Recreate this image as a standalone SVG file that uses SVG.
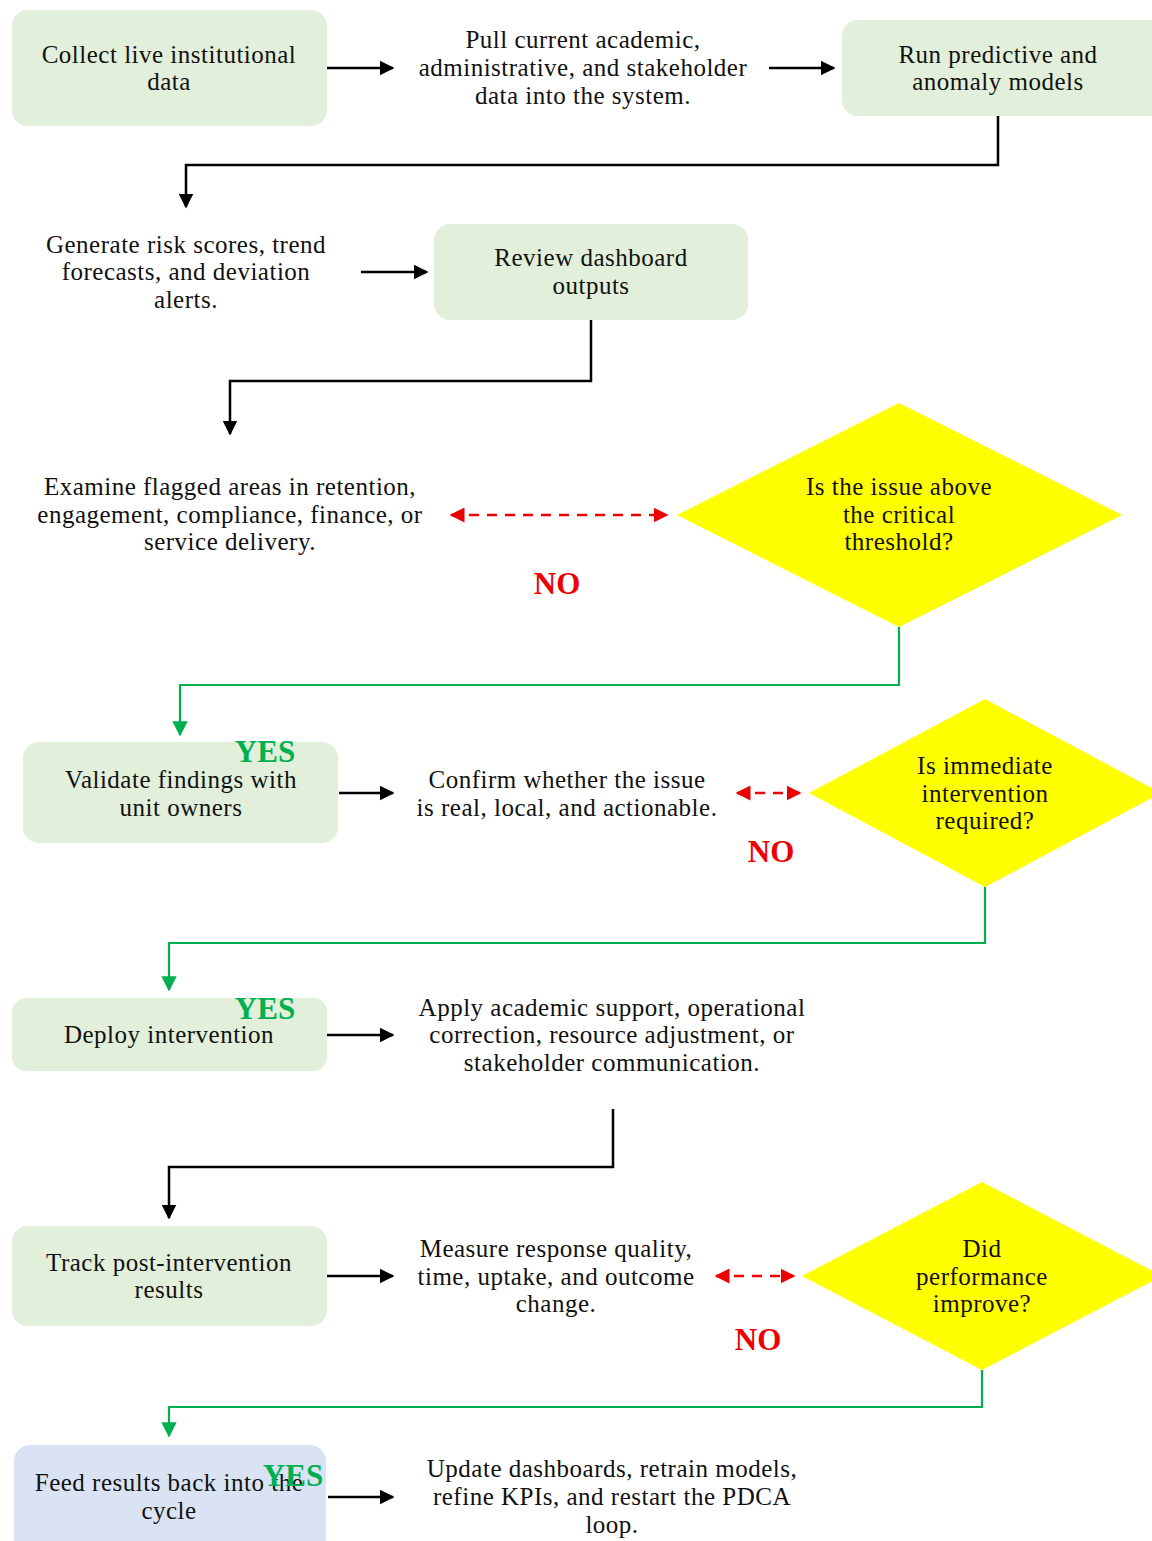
<svg xmlns="http://www.w3.org/2000/svg" width="1152" height="1541" viewBox="0 0 1152 1541">
  <defs>
    <style>
      .box { fill: #e2efda; }
      .box-end { fill: #dae3f3; }
      .dia { fill: #ffff00; }
      .t { font-family: "Liberation Serif", "Times New Roman", serif; font-size: 25px; letter-spacing: 0.5px; fill: #111; text-anchor: middle; }
      .no { font-family: "Liberation Serif", "Times New Roman", serif; font-size: 31px; font-weight: bold; fill: #ee0000; text-anchor: middle; }
      .yes { font-family: "Liberation Serif", "Times New Roman", serif; font-size: 31px; font-weight: bold; fill: #00b050; text-anchor: middle; }
      .blk { fill: none; stroke: #000; stroke-width: 2.5; }
      .grn { fill: none; stroke: #00b050; stroke-width: 2.2; }
      .red { fill: none; stroke: #ee0000; stroke-width: 2.5; stroke-dasharray: 10 8; }
    </style>
    <marker id="ah-black" viewBox="0 0 10 10" refX="9" refY="5" markerWidth="6" markerHeight="6" markerUnits="strokeWidth" orient="auto">
      <path d="M0,0 L10,5 L0,10 z" fill="#000"/>
    </marker>
    <marker id="ah-green" viewBox="0 0 10 10" refX="9" refY="5" markerWidth="7" markerHeight="7" markerUnits="strokeWidth" orient="auto">
      <path d="M0,0 L10,5 L0,10 z" fill="#00b050"/>
    </marker>
    <marker id="ah-red" viewBox="0 0 10 10" refX="9" refY="5" markerWidth="6" markerHeight="6" markerUnits="strokeWidth" orient="auto-start-reverse">
      <path d="M0,0 L10,5 L0,10 z" fill="#ee0000"/>
    </marker>
  </defs>

  <rect width="1152" height="1541" fill="#ffffff"/>

  <!-- connectors -->
  <g id="connectors">
    <line class="blk" x1="327" y1="68" x2="393" y2="68" marker-end="url(#ah-black)"/>
    <line class="blk" x1="769" y1="68" x2="834" y2="68" marker-end="url(#ah-black)"/>
    <polyline class="blk" points="998,116 998,165 186,165 186,207" marker-end="url(#ah-black)"/>
    <line class="blk" x1="361" y1="272" x2="427" y2="272" marker-end="url(#ah-black)"/>
    <polyline class="blk" points="591,320 591,381 230,381 230,434" marker-end="url(#ah-black)"/>
    <line class="red" x1="451" y1="515" x2="667" y2="515" marker-start="url(#ah-red)" marker-end="url(#ah-red)"/>
    <polyline class="grn" points="899,627 899,685 180,685 180,735" marker-end="url(#ah-green)"/>
    <line class="blk" x1="339" y1="793" x2="393" y2="793" marker-end="url(#ah-black)"/>
    <line class="red" x1="737" y1="793" x2="800" y2="793" marker-start="url(#ah-red)" marker-end="url(#ah-red)"/>
    <polyline class="grn" points="985,887 985,943 169,943 169,990" marker-end="url(#ah-green)"/>
    <line class="blk" x1="327" y1="1035" x2="393" y2="1035" marker-end="url(#ah-black)"/>
    <polyline class="blk" points="613,1109 613,1167 169,1167 169,1218" marker-end="url(#ah-black)"/>
    <line class="blk" x1="327" y1="1276" x2="393" y2="1276" marker-end="url(#ah-black)"/>
    <line class="red" x1="716" y1="1276" x2="794" y2="1276" marker-start="url(#ah-red)" marker-end="url(#ah-red)"/>
    <polyline class="grn" points="982,1370 982,1407 169,1407 169,1436" marker-end="url(#ah-green)"/>
    <line class="blk" x1="328" y1="1497" x2="393" y2="1497" marker-end="url(#ah-black)"/>
  </g>

  <!-- step: collect -->
  <g id="collect">
    <rect class="box" x="12" y="10" width="315" height="116" rx="16"/>
    <text class="t" x="169" y="63">Collect live institutional</text>
    <text class="t" x="169" y="90">data</text>
  </g>

  <g id="pull-note">
    <text class="t" x="583" y="48">Pull current academic,</text>
    <text class="t" x="583" y="76">administrative, and stakeholder</text>
    <text class="t" x="583" y="104">data into the system.</text>
  </g>

  <g id="run-models">
    <rect class="box" x="842" y="20" width="326" height="96" rx="16"/>
    <text class="t" x="998" y="63">Run predictive and</text>
    <text class="t" x="998" y="90">anomaly models</text>
  </g>

  <g id="generate-note">
    <text class="t" x="186" y="253">Generate risk scores, trend</text>
    <text class="t" x="186" y="280">forecasts, and deviation</text>
    <text class="t" x="186" y="308">alerts.</text>
  </g>

  <g id="review">
    <rect class="box" x="434" y="224" width="314" height="96" rx="16"/>
    <text class="t" x="591" y="266">Review dashboard</text>
    <text class="t" x="591" y="294">outputs</text>
  </g>

  <g id="examine-note">
    <text class="t" x="230" y="495">Examine flagged areas in retention,</text>
    <text class="t" x="230" y="523">engagement, compliance, finance, or</text>
    <text class="t" x="230" y="550">service delivery.</text>
  </g>

  <g id="decision-threshold">
    <polygon class="dia" points="899,403 1122,515 899,627 677,515"/>
    <text class="t" x="899" y="495">Is the issue above</text>
    <text class="t" x="899" y="523">the critical</text>
    <text class="t" x="899" y="550">threshold?</text>
    <text class="no" x="557" y="594">NO</text>
  </g>

  <g id="validate">
    <rect class="box" x="23" y="742" width="315" height="101" rx="16"/>
    <text class="t" x="181" y="788">Validate findings with</text>
    <text class="t" x="181" y="816">unit owners</text>
    <text class="yes" x="265" y="762">YES</text>
  </g>

  <g id="confirm-note">
    <text class="t" x="567" y="788">Confirm whether the issue</text>
    <text class="t" x="567" y="816">is real, local, and actionable.</text>
  </g>

  <g id="decision-immediate">
    <polygon class="dia" points="985,699 1161,793 985,887 809,793"/>
    <text class="t" x="985" y="774">Is immediate</text>
    <text class="t" x="985" y="802">intervention</text>
    <text class="t" x="985" y="829">required?</text>
    <text class="no" x="771" y="862">NO</text>
  </g>

  <g id="deploy">
    <rect class="box" x="12" y="998" width="315" height="73" rx="14"/>
    <text class="t" x="169" y="1043">Deploy intervention</text>
    <text class="yes" x="265" y="1019">YES</text>
  </g>

  <g id="apply-note">
    <text class="t" x="612" y="1016">Apply academic support, operational</text>
    <text class="t" x="612" y="1043">correction, resource adjustment, or</text>
    <text class="t" x="612" y="1071">stakeholder communication.</text>
  </g>

  <g id="track">
    <rect class="box" x="12" y="1226" width="315" height="100" rx="16"/>
    <text class="t" x="169" y="1271">Track post-intervention</text>
    <text class="t" x="169" y="1298">results</text>
  </g>

  <g id="measure-note">
    <text class="t" x="556" y="1257">Measure response quality,</text>
    <text class="t" x="556" y="1285">time, uptake, and outcome</text>
    <text class="t" x="556" y="1312">change.</text>
  </g>

  <g id="decision-improve">
    <polygon class="dia" points="982,1182 1162,1276 982,1370 802,1276"/>
    <text class="t" x="982" y="1257">Did</text>
    <text class="t" x="982" y="1285">performance</text>
    <text class="t" x="982" y="1312">improve?</text>
    <text class="no" x="758" y="1350">NO</text>
  </g>

  <g id="feed-back">
    <rect class="box-end" x="14" y="1445" width="312" height="120" rx="16"/>
    <text class="t" x="169" y="1491">Feed results back into the</text>
    <text class="t" x="169" y="1519">cycle</text>
    <text class="yes" x="293" y="1486">YES</text>
  </g>

  <g id="update-note">
    <text class="t" x="612" y="1477">Update dashboards, retrain models,</text>
    <text class="t" x="612" y="1505">refine KPIs, and restart the PDCA</text>
    <text class="t" x="612" y="1533">loop.</text>
  </g>
</svg>
